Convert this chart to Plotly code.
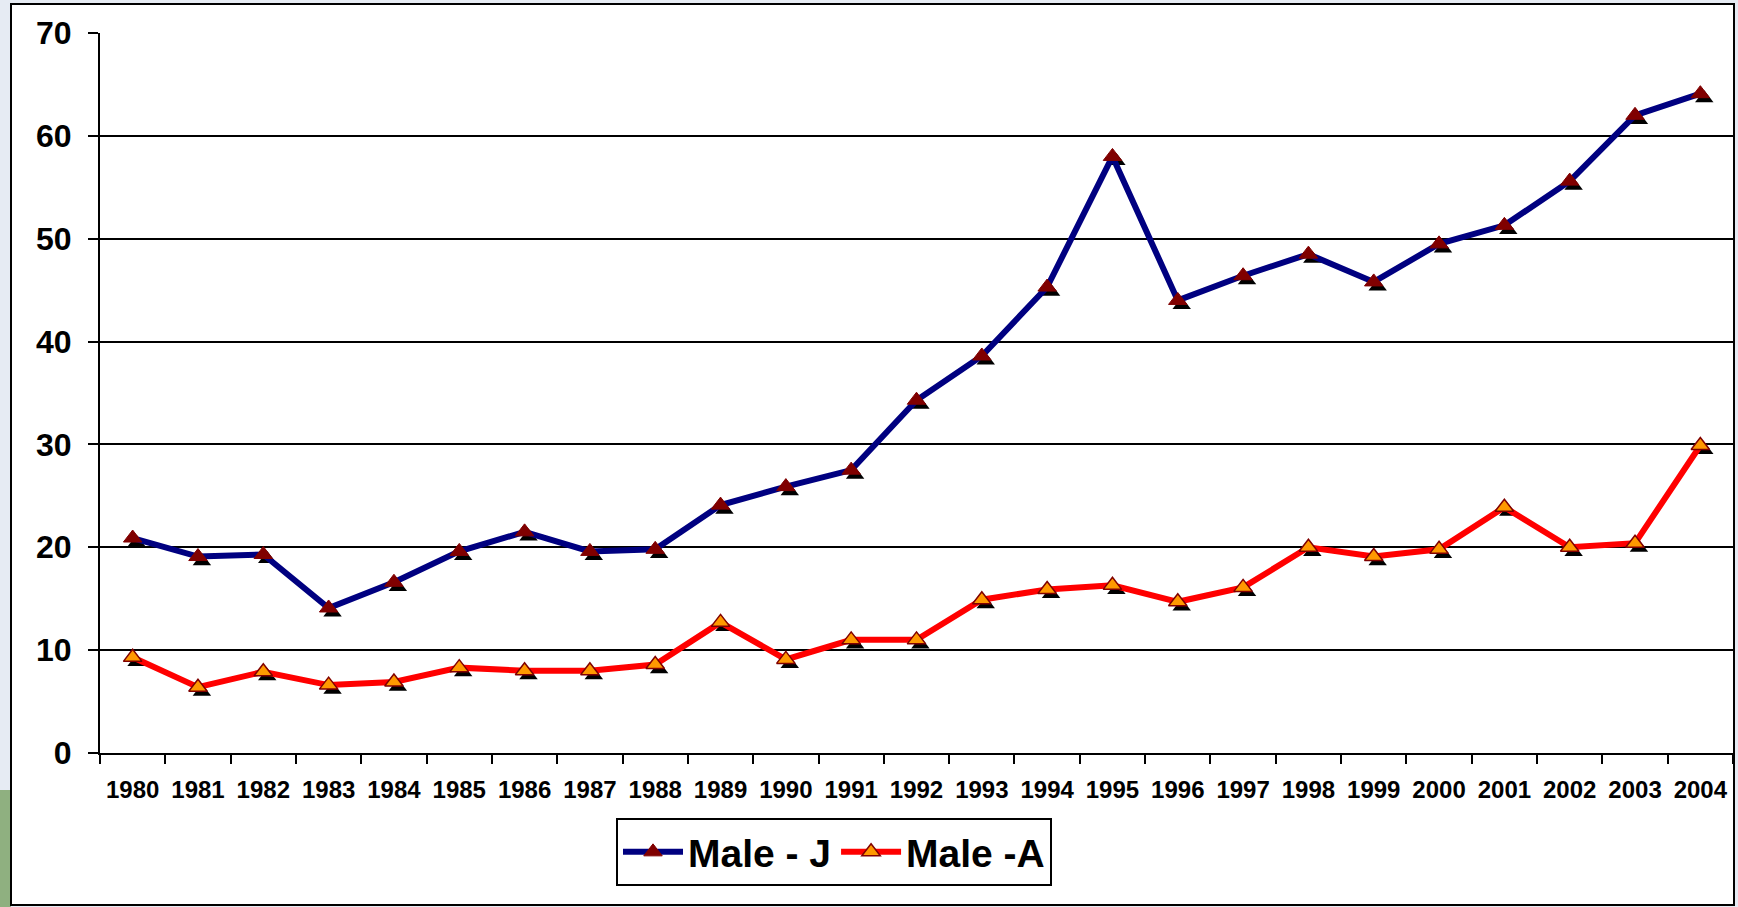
import plotly.graph_objects as go

years = list(range(1980, 2005))
male_j = [20.9, 19.1, 19.3, 14.1, 16.6, 19.6, 21.5, 19.6, 19.8, 24.1, 25.9, 27.5, 34.3,
          38.6, 45.3, 58.0, 44.0, 46.4, 48.5, 45.8, 49.5, 51.3, 55.6, 62.0, 64.1]
male_a = [9.3, 6.4, 7.9, 6.6, 6.9, 8.3, 8.0, 8.0, 8.6, 12.7, 9.1, 11.0, 11.0,
          14.9, 15.9, 16.3, 14.7, 16.1, 20.0, 19.1, 19.8, 23.9, 20.0, 20.4, 29.9]
y_ticks = [0, 10, 20, 30, 40, 50, 60, 70]

W, H = 1738, 907
ml, mr, mt, mb = 100, 5, 33, 154
pw, ph = W - ml - mr, H - mt - mb

FONT = "Liberation Sans, Arial, sans-serif"

fig = go.Figure()

# marker shadows
dx, dy = 0.06, -0.45
for vals in (male_j, male_a):
    fig.add_trace(go.Scatter(
        x=[y + dx for y in years], y=[v + dy for v in vals], mode="markers",
        marker=dict(symbol="triangle-up", size=16, color="black"),
        showlegend=False, hoverinfo="skip"))

fig.add_trace(go.Scatter(
    x=years, y=male_j, mode="lines+markers", name="Male - J",
    line=dict(color="#000080", width=6),
    marker=dict(symbol="triangle-up", size=16, color="#800000",
                line=dict(color="#800000", width=1))))
fig.add_trace(go.Scatter(
    x=years, y=male_a, mode="lines+markers", name="Male -A",
    line=dict(color="#FF0000", width=6),
    marker=dict(symbol="triangle-up", size=16, color="#FF9900",
                line=dict(color="#800000", width=1.5))))

def px(x):
    return (x - ml) / pw

def py(y):
    return (H - mb - y) / ph

# outer frame and background
fig.add_shape(type="rect", xref="paper", yref="paper",
              x0=px(0), x1=px(11), y0=py(790), y1=py(907),
              fillcolor="#8fb080", line=dict(width=0), layer="below")
fig.add_shape(type="rect", xref="paper", yref="paper",
              x0=px(11), x1=px(1734), y0=py(905), y1=py(4),
              fillcolor="white", line=dict(color="black", width=2), layer="below")

fig.update_layout(
    width=W, height=H,
    margin=dict(l=ml, r=mr, t=mt, b=mb, autoexpand=False),
    paper_bgcolor="#e6ebf3",
    plot_bgcolor="white",
    font=dict(family=FONT, color="black"),
    showlegend=True,
    legend=dict(
        orientation="h", x=px(834), y=py(852), xanchor="center", yanchor="middle",
        bgcolor="white", bordercolor="black", borderwidth=2,
        font=dict(size=39, family=FONT, weight="bold"),
        itemwidth=60, traceorder="normal"),
)

fig.update_xaxes(
    range=[1979.5, 2004.5], automargin=False,
    tickvals=years, ticktext=[str(y) for y in years],
    ticks="", showgrid=False, zeroline=False,
    showline=True, linecolor="black", linewidth=2,
    ticklabelstandoff=14,
    tickfont=dict(size=24, family=FONT, weight="bold"),
    minor=dict(tickvals=[y - 0.5 for y in years] + [2004.5], ticks="outside",
               ticklen=9, tickwidth=2, tickcolor="black", showgrid=False),
)
fig.update_yaxes(
    range=[0, 70], tickvals=y_ticks, automargin=False,
    showgrid=True, gridcolor="black", gridwidth=2,
    zeroline=False, showline=True, linecolor="black", linewidth=2,
    ticks="outside", ticklen=10, tickwidth=2, tickcolor="black",
    ticklabelstandoff=10,
    tickfont=dict(size=32, family=FONT, weight="bold"),
)

fig.write_html("out.html", config={"displayModeBar": False},
               post_script="document.body.style.margin='0';document.body.style.overflow='hidden';")
